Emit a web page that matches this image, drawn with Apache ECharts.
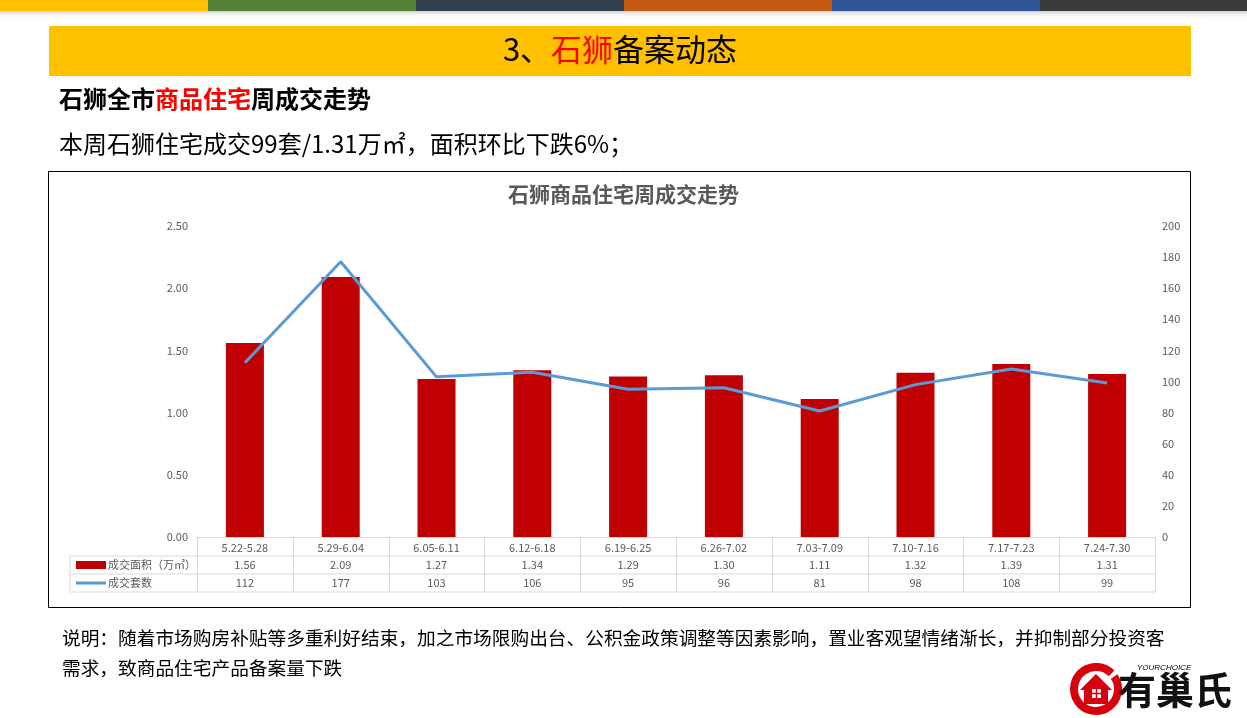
<!DOCTYPE html>
<html>
<head>
<meta charset="utf-8">
<script src="https://cdn.jsdelivr.net/npm/echarts@6/dist/echarts.min.js"></script>
<style>
  html, body { margin: 0; padding: 0; background: #fff; }
  #main { width: 1247px; height: 718px; }
</style>
</head>
<body>
<div id="main"></div>
<script>
// 周度数据
const categories = ['5.22-5.28', '5.29-6.04', '6.05-6.11', '6.12-6.18', '6.19-6.25',
  '6.26-7.02', '7.03-7.09', '7.10-7.16', '7.17-7.23', '7.24-7.30'];
const areaValues = [1.56, 2.09, 1.27, 1.34, 1.29, 1.30, 1.11, 1.32, 1.39, 1.31];
const countValues = [112, 177, 103, 106, 95, 96, 81, 98, 108, 99];
const areaName = '成交面积（万㎡）';
const countName = '成交套数';
const stripColors = ['#FFC000', '#548235', '#323F4F', '#C55A11', '#2F5597', '#3A3A3A'];

const FONT = '"Noto Sans CJK SC", "Microsoft YaHei", sans-serif';
const RED = '#C00000';
const BLUE = '#5B9BD5';
const GRIDLINE = '#D9D9D9';

const chart = echarts.init(document.getElementById('main'));

const option = {
  animation: false,
  textStyle: { fontFamily: FONT },
  title: {
    text: '石狮商品住宅周成交走势',
    left: 'center',
    top: 179,
    textStyle: { fontSize: 21, fontWeight: 'bold', color: '#595959', fontFamily: FONT }
  },
  grid: { left: 197, right: 92, top: 226, bottom: 181 },
  xAxis: {
    type: 'category',
    data: categories,
    axisLine: { lineStyle: { color: GRIDLINE } },
    axisTick: { show: false },
    axisLabel: { color: '#595959', fontSize: 11, margin: 5, interval: 0 }
  },
  yAxis: [{
    type: 'value',
    min: 0, max: 2.5, interval: 0.5,
    axisLine: { show: false },
    axisTick: { show: false },
    splitLine: { show: false },
    axisLabel: { color: '#595959', fontSize: 11, margin: 9, formatter: v => v.toFixed(2) }
  }, {
    type: 'value',
    min: 0, max: 200, interval: 20,
    axisLine: { show: false },
    axisTick: { show: false },
    splitLine: { show: false },
    axisLabel: { color: '#595959', fontSize: 11, margin: 7 }
  }],
  series: [{
    name: areaName,
    type: 'bar',
    data: areaValues,
    barWidth: 38,
    itemStyle: { color: RED }
  }, {
    name: countName,
    type: 'line',
    yAxisIndex: 1,
    data: countValues,
    symbol: 'none',
    lineStyle: { color: BLUE, width: 3 }
  }]
};
chart.setOption(option);

// 表格位置由坐标轴换算
const c0 = chart.convertToPixel({ xAxisIndex: 0 }, 0);
const c1 = chart.convertToPixel({ xAxisIndex: 0 }, 1);
const colW = c1 - c0;
const tLeft = c0 - colW / 2;
const tRight = tLeft + colW * categories.length;
const yBase = chart.convertToPixel({ yAxisIndex: 0 }, 0);
const rowY = [yBase, yBase + 19, yBase + 37, yBase + 55];
const headLeft = 70;

const g = [];
const line = (x1, y1, x2, y2, color, w) => ({
  type: 'line', silent: true,
  shape: { x1, y1, x2, y2 },
  style: { stroke: color || GRIDLINE, lineWidth: w || 1 }
});

// 顶部色条
stripColors.forEach((c, i) => {
  g.push({ type: 'rect', shape: { x: i * 208, y: 0, width: 208, height: 11 }, style: { fill: c } });
});
g.push({
  type: 'rect', shape: { x: 0, y: 11, width: 1247, height: 8 },
  style: { fill: new echarts.graphic.LinearGradient(0, 0, 0, 1, [
    { offset: 0, color: 'rgba(120,120,120,0.35)' }, { offset: 1, color: 'rgba(255,255,255,0)' }]) }
});
// 标题横幅
g.push({ type: 'rect', shape: { x: 49, y: 26, width: 1142, height: 50 }, style: { fill: '#FFC000' } });
g.push({
  type: 'text', x: 620, y: 49,
  style: {
    text: '{k|3、}{r|石狮}{k|备案动态}', align: 'center', verticalAlign: 'middle',
    rich: {
      k: { fontSize: 31, fill: '#000', fontFamily: FONT },
      r: { fontSize: 31, fill: '#FF0000', fontFamily: FONT }
    }
  }
});
g.push({
  type: 'text', x: 59, y: 99,
  style: {
    text: '{k|石狮全市}{r|商品住宅}{k|周成交走势}', verticalAlign: 'middle',
    rich: {
      k: { fontSize: 24, fontWeight: 'bold', fill: '#000', fontFamily: FONT },
      r: { fontSize: 24, fontWeight: 'bold', fill: '#FF0000', fontFamily: FONT }
    }
  }
});
g.push({
  type: 'text', x: 59, y: 144,
  style: { text: '本周石狮住宅成交99套/1.31万㎡，面积环比下跌6%；', verticalAlign: 'middle',
    fontSize: 24, fill: '#000', fontFamily: FONT }
});
// 图表边框
g.push({ type: 'rect', z: -1, shape: { x: 48.5, y: 171.5, width: 1142, height: 436 },
  style: { fill: 'none', stroke: '#000', lineWidth: 1 } });

// 数据表
g.push(line(headLeft, rowY[1], tRight, rowY[1]));
g.push(line(headLeft, rowY[2], tRight, rowY[2]));
g.push(line(headLeft, rowY[3], tRight, rowY[3]));
g.push(line(headLeft, rowY[1], headLeft, rowY[3]));
for (let i = 0; i <= categories.length; i++) {
  const x = Math.round(tLeft + i * colW) + 0.5;
  g.push(line(x, rowY[0], x, rowY[3]));
}
categories.forEach((c, i) => {
  const x = chart.convertToPixel({ xAxisIndex: 0 }, i);
  g.push({ type: 'text', x, y: (rowY[1] + rowY[2]) / 2,
    style: { text: areaValues[i].toFixed(2), align: 'center', verticalAlign: 'middle', fontSize: 11, fill: '#595959', fontFamily: FONT } });
  g.push({ type: 'text', x, y: (rowY[2] + rowY[3]) / 2,
    style: { text: String(countValues[i]), align: 'center', verticalAlign: 'middle', fontSize: 11, fill: '#595959', fontFamily: FONT } });
});
const r1 = (rowY[1] + rowY[2]) / 2;
const r2 = (rowY[2] + rowY[3]) / 2;
g.push({ type: 'rect', shape: { x: 76, y: r1 - 4, width: 30, height: 8 }, style: { fill: RED } });
g.push({ type: 'text', x: 108, y: r1, style: { text: areaName, verticalAlign: 'middle', fontSize: 11, fill: '#595959', fontFamily: FONT } });
g.push(line(76, r2, 106, r2, BLUE, 3));
g.push({ type: 'text', x: 108, y: r2, style: { text: countName, verticalAlign: 'middle', fontSize: 11, fill: '#595959', fontFamily: FONT } });

// 说明
g.push({ type: 'text', x: 62, y: 638,
  style: { text: '说明：随着市场购房补贴等多重利好结束，加之市场限购出台、公积金政策调整等因素影响，置业客观望情绪渐长，并抑制部分投资客',
    verticalAlign: 'middle', fontSize: 18.7, fill: '#000', fontFamily: FONT } });
g.push({ type: 'text', x: 62, y: 668,
  style: { text: '需求，致商品住宅产品备案量下跌', verticalAlign: 'middle', fontSize: 18.7, fill: '#000', fontFamily: FONT } });

// logo
g.push({ type: 'arc', shape: { cx: 1096, cy: 689, r: 22, startAngle: -0.6, endAngle: Math.PI * 1.75, clockwise: true },
  style: { stroke: '#D7000F', lineWidth: 8, fill: 'none' } });
g.push({ type: 'polygon', shape: { points: [[1080, 690], [1096, 674], [1112, 690], [1108, 690], [1108, 704], [1084, 704], [1084, 690]] },
  style: { fill: '#D7000F' } });
g.push({ type: 'rect', shape: { x: 1092, y: 689, width: 9, height: 9 }, style: { fill: '#fff' } });
g.push(line(1096.5, 689, 1096.5, 698, '#D7000F', 1.5));
g.push(line(1092, 693.5, 1101, 693.5, '#D7000F', 1.5));
g.push({ type: 'text', x: 1137, y: 668, style: { text: 'YOURCHOICE', verticalAlign: 'middle', fontSize: 8, fontStyle: 'italic', fill: '#000', fontFamily: 'Arial, sans-serif' } });
g.push({ type: 'text', x: 1118, y: 690, style: { text: '有巢氏', verticalAlign: 'middle', fontSize: 38, fontWeight: 'bold', fill: '#111', fontFamily: FONT } });

chart.setOption({ graphic: g });
</script>
</body>
</html>
